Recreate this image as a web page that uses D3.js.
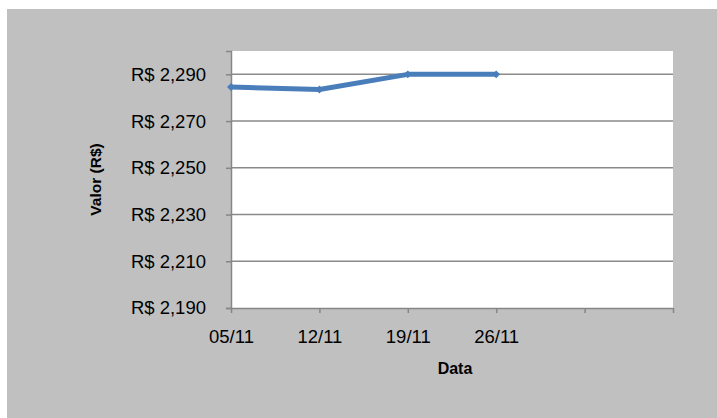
<!DOCTYPE html>
<html>
<head>
<meta charset="utf-8">
<script src="https://cdn.jsdelivr.net/npm/d3@7"></script>
<style>
  html, body { margin: 0; padding: 0; background: #fff; }
  svg { display: block; }
</style>
</head>
<body>
<div id="chart"></div>
<script>
// weekly dates (the last two slots are empty on the axis)
var categories = ["05/11", "12/11", "19/11", "26/11", "03/12", "10/12"]
var tickLabels = ["05/11", "12/11", "19/11", "26/11", "", ""]
var values = [2.2846, 2.2835, 2.290, 2.290]
var yTicks = [2.19, 2.21, 2.23, 2.25, 2.27, 2.29]

var width = 717, height = 418
var margin = {left: 231, right: 44, top: 51, bottom: 110}

var svg = d3.select("#chart").append("svg")
  .attr("width", width)
  .attr("height", height)

// gray chart area
svg.append("rect")
  .attr("x", 7).attr("y", 9)
  .attr("width", width - 7).attr("height", height - 9)
  .attr("fill", "#c0c0c0")

var x = d3.scalePoint()
  .domain(categories)
  .range([margin.left, width - margin.right])

var y = d3.scaleLinear()
  .domain([2.19, 2.30])
  .range([height - margin.bottom, margin.top])

// plot area
svg.append("rect")
  .attr("x", margin.left).attr("y", margin.top)
  .attr("width", width - margin.right - margin.left)
  .attr("height", height - margin.bottom - margin.top)
  .attr("fill", "#fff")

// gridlines
svg.append("g")
  .selectAll("line")
  .data(yTicks.slice(1))
  .enter().append("line")
    .attr("x1", margin.left).attr("x2", width - margin.right)
    .attr("y1", function (d) { return y(d) }).attr("y2", function (d) { return y(d) })
    .attr("stroke", "#8a8a8a")
    .attr("stroke-width", 1.5)

var fmt = function (d) { return "R$ " + d3.format(".3f")(d).replace(".", ",") }

// y axis
var yAxis = svg.append("g")
  .attr("transform", "translate(" + margin.left + ",0)")
  .call(d3.axisLeft(y).tickValues(yTicks).tickFormat(fmt).tickSize(5).tickPadding(20))
yAxis.select(".domain").attr("stroke", "#868686").attr("stroke-width", 1.5)
yAxis.selectAll(".tick line").attr("stroke", "#868686").attr("stroke-width", 1.5)
yAxis.selectAll("text")
  .attr("font-family", "'Liberation Sans', Arial, sans-serif")
  .attr("font-size", "18.5px")
  .attr("fill", "#000")

// x axis
var xAxis = svg.append("g")
  .attr("transform", "translate(0," + (height - margin.bottom) + ")")
  .call(d3.axisBottom(x).tickFormat(function (d, i) { return tickLabels[i] }).tickSize(5).tickSizeOuter(0).tickPadding(17))
xAxis.select(".domain").attr("stroke", "#868686").attr("stroke-width", 1.5)
xAxis.selectAll(".tick line").attr("stroke", "#868686").attr("stroke-width", 1.5)
xAxis.selectAll("text")
  .attr("font-family", "'Liberation Sans', Arial, sans-serif")
  .attr("font-size", "18.5px")
  .attr("fill", "#000")

// axis titles
svg.append("text")
  .text("Data")
  .attr("x", (margin.left + width - margin.right) / 2 + 3)
  .attr("y", 374)
  .attr("text-anchor", "middle")
  .attr("font-family", "'Liberation Sans', Arial, sans-serif")
  .attr("font-weight", "bold")
  .attr("font-size", "16px")
  .attr("fill", "#000")

svg.append("text")
  .text("Valor (R$)")
  .attr("transform", "translate(101," + (margin.top + height - margin.bottom) / 2 + ") rotate(-90)")
  .attr("text-anchor", "middle")
  .attr("font-family", "'Liberation Sans', Arial, sans-serif")
  .attr("font-weight", "bold")
  .attr("font-size", "15.5px")
  .attr("fill", "#000")

// series
var line = d3.line()
  .x(function (d, i) { return x(categories[i]) })
  .y(function (d) { return y(d) })

svg.append("path")
  .datum(values)
  .attr("d", line)
  .attr("fill", "none")
  .attr("stroke", "#4a7ebb")
  .attr("stroke-width", 5)
  .attr("stroke-linejoin", "round")

svg.append("g")
  .selectAll("path")
  .data(values)
  .enter().append("path")
    .attr("d", d3.symbol().type(d3.symbolDiamond2).size(40))
    .attr("transform", function (d, i) { return "translate(" + x(categories[i]) + "," + y(d) + ")" })
    .attr("fill", "#4a7ebb")
</script>
</body>
</html>
